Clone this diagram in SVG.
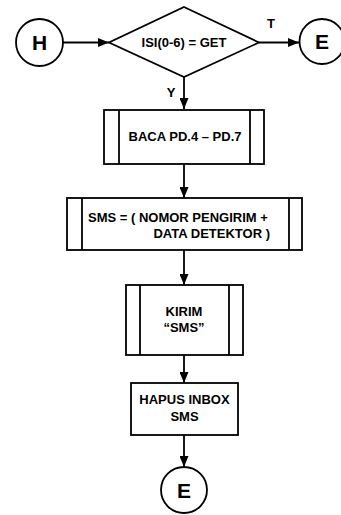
<svg xmlns="http://www.w3.org/2000/svg" width="341" height="515" viewBox="0 0 341 515">
<defs>
<marker id="ah" markerWidth="11" markerHeight="9" refX="11" refY="4.5" orient="auto" markerUnits="userSpaceOnUse">
<path d="M0,0 L11,4.5 L0,9 Z" fill="#000"/>
</marker>
<style>
.s{fill:#fff;stroke:#000;stroke-width:1.8}
.c{fill:none;stroke:#000;stroke-width:1.8;marker-end:url(#ah)}
.t{font-family:"Liberation Sans",Arial,sans-serif;font-weight:bold;font-size:13px;fill:#000}
.b{font-family:"Liberation Sans",Arial,sans-serif;font-weight:bold;font-size:21px;fill:#000}
</style>
</defs>
<rect width="341" height="515" fill="#fff"/>
<g id="connectors">
<line class="c" x1="63" y1="42.5" x2="109" y2="42.5"/>
<line class="c" x1="259" y1="42.5" x2="299" y2="42.5"/>
<line class="c" x1="184" y1="77" x2="184" y2="109"/>
<line class="c" x1="184" y1="164" x2="184" y2="198"/>
<line class="c" x1="184" y1="250" x2="184" y2="285"/>
<line class="c" x1="184" y1="355" x2="184" y2="383"/>
<line class="c" x1="184" y1="435" x2="184" y2="467"/>
<text class="t" x="271" y="28" text-anchor="middle">T</text>
<text class="t" x="171" y="97" text-anchor="middle">Y</text>
</g>
<g id="start">
<circle class="s" cx="39.5" cy="42.5" r="23.5"/>
<text class="b" x="39.5" y="50" text-anchor="middle">H</text>
</g>
<g id="decision">
<polygon class="s" points="184,7 259,42.5 184,77 109,42.5"/>
<text class="t" x="184" y="47" text-anchor="middle">ISI(0-6) = GET</text>
</g>
<g id="endRight">
<circle class="s" cx="322" cy="41.5" r="22.5"/>
<text class="b" x="322" y="49" text-anchor="middle">E</text>
</g>
<g id="baca">
<rect class="s" x="104" y="110" width="160" height="54"/>
<line class="s" x1="119" y1="110" x2="119" y2="164"/>
<line class="s" x1="250" y1="110" x2="250" y2="164"/>
<text class="t" x="185" y="141" text-anchor="middle">BACA PD.4 – PD.7</text>
</g>
<g id="sms">
<rect class="s" x="67" y="198" width="235" height="52"/>
<line class="s" x1="82" y1="198" x2="82" y2="250"/>
<line class="s" x1="289" y1="198" x2="289" y2="250"/>
<text class="t" x="88" y="222">SMS = ( NOMOR PENGIRIM +</text>
<text class="t" x="270" y="238" text-anchor="end">DATA DETEKTOR )</text>
</g>
<g id="kirim">
<rect class="s" x="126" y="285" width="117" height="70"/>
<line class="s" x1="140" y1="285" x2="140" y2="355"/>
<line class="s" x1="229" y1="285" x2="229" y2="355"/>
<text class="t" x="184" y="316" text-anchor="middle">KIRIM</text>
<text class="t" x="184" y="332" text-anchor="middle">“SMS”</text>
</g>
<g id="hapus">
<rect class="s" x="131" y="383" width="107" height="52"/>
<text class="t" x="184.5" y="404" text-anchor="middle">HAPUS INBOX</text>
<text class="t" x="184.5" y="421" text-anchor="middle">SMS</text>
</g>
<g id="endBottom">
<circle class="s" cx="184" cy="490" r="23"/>
<text class="b" x="184" y="497.5" text-anchor="middle">E</text>
</g>
</svg>
